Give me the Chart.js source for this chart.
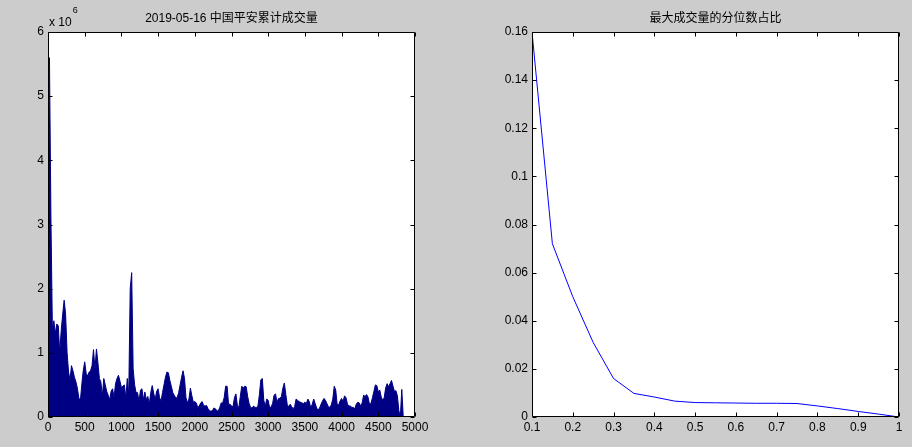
<!DOCTYPE html>
<html><head><meta charset="utf-8">
<script src="https://cdn.jsdelivr.net/npm/chart.js@4/dist/chart.umd.min.js"></script>
<style>
html,body{margin:0;padding:0;background:#cccccc;}
body{width:912px;height:447px;position:relative;overflow:hidden;}
canvas{position:absolute;top:0;}
#c1{left:0;}
#c2{left:456px;}
</style></head><body>
<canvas id="c1" width="456" height="447" style="width:456px;height:447px"></canvas>
<canvas id="c2" width="456" height="447" style="width:456px;height:447px"></canvas>
<script>
// ---------- data ----------
const leftTitle = '2019-05-16 中国平安累计成交量';
const rightTitle = '最大成交量的分位数占比';

const volumeStep = 20; // width of one bucket on the tick axis
// cumulative volume per bucket, in units of 10^6
const volumeMillions = [
  5.1,5.6,3.1,1.35,1.5,1.3,1.45,1.42,1.0,1.35,
  1.6,1.82,1.6,1.0,0.7,0.58,0.8,0.72,0.62,0.55,
  0.45,0.3,0.24,0.5,0.72,0.86,0.68,0.64,0.7,0.72,
  0.8,1.05,0.75,1.06,0.85,0.6,0.55,0.32,0.6,0.5,
  0.4,0.34,0.27,0.4,0.44,0.3,0.52,0.6,0.65,0.56,
  0.46,0.48,0.5,0.3,0.6,0.35,2.0,2.25,0.75,0.5,
  0.38,0.38,0.24,0.42,0.44,0.27,0.39,0.27,0.32,0.2,
  0.38,0.49,0.37,0.27,0.4,0.44,0.3,0.25,0.38,0.5,
  0.62,0.7,0.69,0.57,0.48,0.38,0.34,0.3,0.3,0.38,
  0.5,0.62,0.72,0.6,0.3,0.22,0.28,0.45,0.33,0.23,
  0.24,0.22,0.15,0.17,0.22,0.24,0.18,0.17,0.18,0.13,
  0.1,0.09,0.1,0.14,0.13,0.1,0.09,0.15,0.22,0.22,
  0.3,0.48,0.48,0.2,0.2,0.17,0.16,0.3,0.36,0.18,
  0.15,0.32,0.48,0.45,0.48,0.47,0.32,0.21,0.15,0.14,
  0.17,0.15,0.15,0.17,0.35,0.58,0.6,0.26,0.17,0.28,
  0.26,0.14,0.16,0.21,0.34,0.36,0.23,0.29,0.29,0.32,
  0.45,0.53,0.35,0.19,0.16,0.2,0.16,0.13,0.16,0.28,
  0.26,0.24,0.23,0.22,0.21,0.23,0.21,0.28,0.24,0.14,
  0.2,0.28,0.21,0.14,0.11,0.14,0.2,0.25,0.29,0.26,
  0.21,0.16,0.15,0.19,0.28,0.48,0.42,0.19,0.19,0.25,
  0.29,0.24,0.33,0.3,0.2,0.17,0.17,0.15,0.15,0.13,
  0.2,0.23,0.22,0.17,0.22,0.34,0.32,0.35,0.31,0.2,
  0.21,0.3,0.4,0.5,0.49,0.39,0.42,0.31,0.26,0.3,
  0.45,0.52,0.47,0.52,0.57,0.48,0.4,0.41,0.33,0.1,
  0,0.43,0
];
const volumeTicks = volumeMillions.map((_, i) => i * volumeStep);

const quantiles = [0.1,0.15,0.2,0.25,0.3,0.35,0.4,0.45,0.5,0.55,0.6,0.65,0.7,0.75,0.8,0.85,0.9,0.95,1.0];
const maxShare  = [0.16,0.072,0.05,0.031,0.016,0.0098,0.0083,0.0066,0.006,0.0059,0.0058,0.0057,0.0057,0.0056,0.0046,0.0035,0.0023,0.0012,0];

const leftXTicks  = [0,500,1000,1500,2000,2500,3000,3500,4000,4500,5000];
const leftYTicks  = [0,1,2,3,4,5,6];
const rightXTicks = [0.1,0.2,0.3,0.4,0.5,0.6,0.7,0.8,0.9,1];
const rightYTicks = [0,0.02,0.04,0.06,0.08,0.1,0.12,0.14,0.16];

// ---------- style ----------
const FONT = '"Liberation Sans Narrow","Liberation Sans","Noto Sans CJK SC",sans-serif';
Chart.defaults.color = '#000';
Chart.defaults.font.family = FONT;
Chart.defaults.font.size = 12;

const framePlugin = {
  id: 'frame',
  beforeDraw(chart) {
    const {ctx, chartArea: a} = chart;
    ctx.save();
    ctx.fillStyle = '#ffffff';
    ctx.fillRect(a.left, a.top, a.right - a.left, a.bottom - a.top);
    ctx.restore();
  },
  afterDraw(chart) {
    const {ctx, chartArea: a, scales} = chart;
    const L = Math.round(a.left) + 0.5, R = Math.round(a.right) - 0.5;
    const T = Math.round(a.top) + 0.5, B = Math.round(a.bottom) - 0.5;
    const tl = 4;
    ctx.save();
    ctx.strokeStyle = '#000';
    ctx.lineWidth = 1;
    ctx.beginPath();
    ctx.rect(L, T, R - L, B - T);
    scales.x.ticks.forEach(t => {
      const px = Math.round(scales.x.getPixelForValue(t.value)) + 0.5;
      ctx.moveTo(px, B); ctx.lineTo(px, B - tl);
      ctx.moveTo(px, T); ctx.lineTo(px, T + tl);
    });
    scales.y.ticks.forEach(t => {
      const py = Math.round(scales.y.getPixelForValue(t.value)) + 0.5;
      ctx.moveTo(L, py); ctx.lineTo(L + tl, py);
      ctx.moveTo(R, py); ctx.lineTo(R - tl, py);
    });
    ctx.stroke();
    const ex = chart.options.plugins.frame && chart.options.plugins.frame.exponent;
    if (ex) {
      ctx.fillStyle = '#000';
      ctx.textBaseline = 'alphabetic';
      ctx.textAlign = 'left';
      ctx.font = '12px ' + FONT;
      ctx.fillText('x 10', a.left + 1, 26);
      const w = ctx.measureText('x 10').width;
      ctx.font = '9px ' + FONT;
      ctx.fillText(ex, a.left + 2 + w, 13);
    }
    ctx.restore();
  }
};

function axis(min, max, tickValues, fitProp, fitSize, pad) {
  return {
    type: 'linear', min, max,
    grid: {display: false, drawTicks: false},
    border: {display: false},
    ticks: {padding: pad, font: {size: 12, family: FONT}, color: '#000',
            maxRotation: 0, autoSkip: false, callback: v => String(v)},
    afterBuildTicks: s => { s.ticks = tickValues.map(v => ({value: v})); },
    afterFit: s => { s[fitProp] = fitSize; }
  };
}

function titleOpts(text) {
  return {display: true, text, fullSize: false, color: '#000',
          font: {size: 12, family: FONT, weight: 'normal'},
          padding: {top: 11, bottom: 6.6}};
}

new Chart(document.getElementById('c1'), {
  type: 'line',
  data: {
    datasets: [{
      data: volumeTicks.map((x, i) => ({x, y: volumeMillions[i]})),
      fill: 'origin',
      backgroundColor: '#000084',
      borderColor: '#000084',
      borderWidth: 1,
      pointRadius: 0,
      tension: 0
    }]
  },
  options: {
    responsive: false, animation: false, devicePixelRatio: 1,
    layout: {padding: {left: 0, right: 41, top: 0, bottom: 0}},
    plugins: {legend: {display: false}, tooltip: {enabled: false},
              title: titleOpts(leftTitle), frame: {exponent: '6'}},
    scales: {
      x: axis(0, 5000, leftXTicks, 'height', 30, 3),
      y: axis(0, 6, leftYTicks, 'width', 48, 4)
    }
  },
  plugins: [framePlugin]
});

new Chart(document.getElementById('c2'), {
  type: 'line',
  data: {
    datasets: [{
      data: quantiles.map((x, i) => ({x, y: maxShare[i]})),
      borderColor: '#0000ff',
      borderWidth: 1,
      pointRadius: 0,
      fill: false,
      tension: 0
    }]
  },
  options: {
    responsive: false, animation: false, devicePixelRatio: 1,
    layout: {padding: {left: 0, right: 13, top: 0, bottom: 0}},
    plugins: {legend: {display: false}, tooltip: {enabled: false},
              title: titleOpts(rightTitle), frame: {}},
    scales: {
      x: axis(0.1, 1, rightXTicks, 'height', 30, 3),
      y: axis(0, 0.16, rightYTicks, 'width', 76, 4)
    }
  },
  plugins: [framePlugin]
});
</script>
</body></html>
